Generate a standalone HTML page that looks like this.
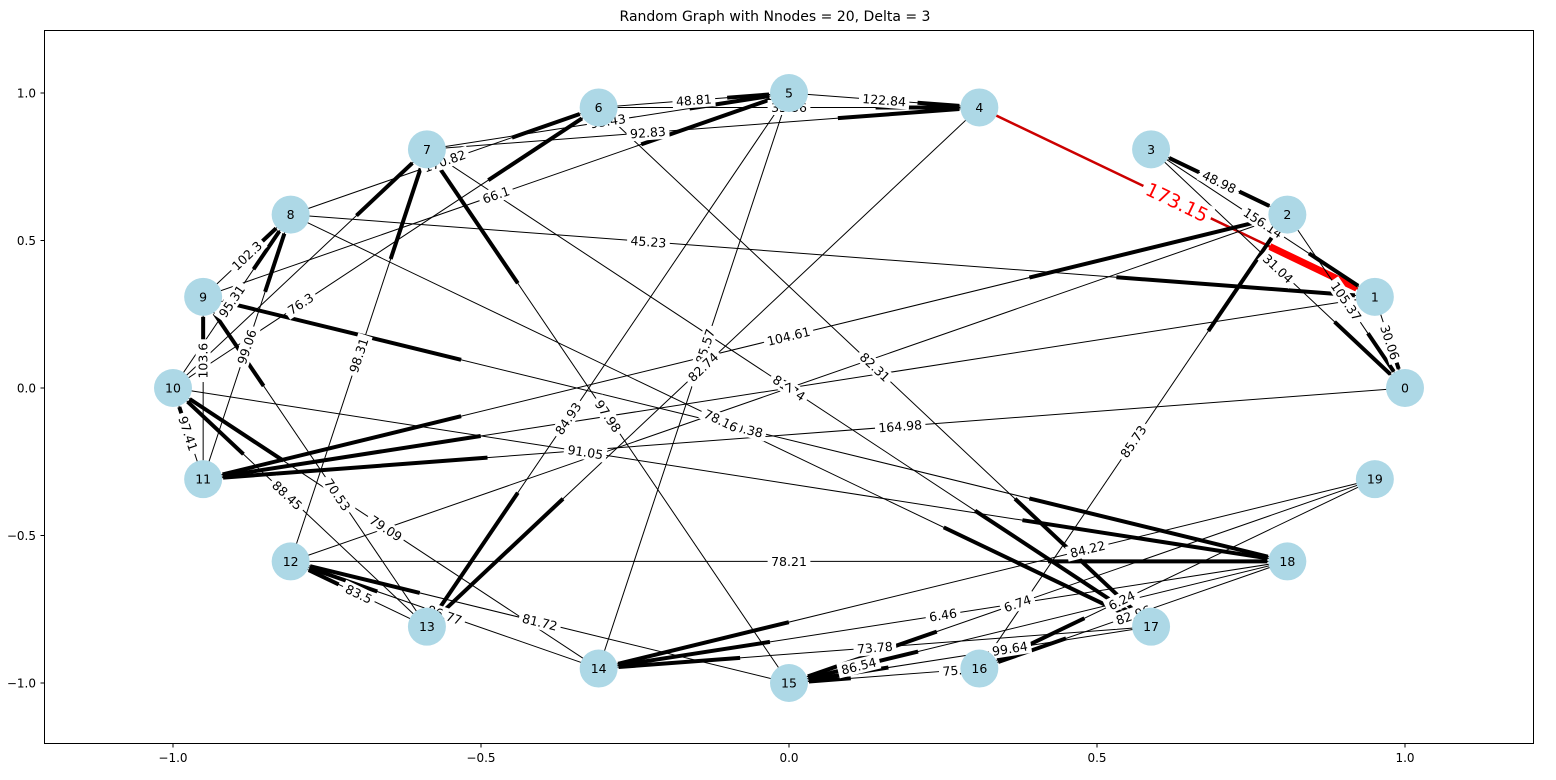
<!DOCTYPE html>
<html><head><meta charset="utf-8">
<style>
body{margin:0;background:#fff;font-family:"Liberation Sans","DejaVu Sans",sans-serif;}
svg text{font-family:"DejaVu Sans","Liberation Sans",sans-serif;}
</style></head>
<body>
<svg id="chart" width="1556" height="775" viewBox="0 0 1556 775">
<rect x="0" y="0" width="1556" height="775" fill="#fff"/>
<text x="775" y="21" text-anchor="middle" font-size="14">Random Graph with Nnodes = 20, Delta = 3</text>
<g id="edges"></g>
<g id="labels"></g>
<g id="nodes"></g>
<rect x="44.5" y="30.5" width="1489" height="713" fill="none" stroke="#000" stroke-width="1"/>
<g id="axes"></g>
</svg>
<script>
const nodeIds = [0,1,2,3,4,5,6,7,8,9,10,11,12,13,14,15,16,17,18,19];
const edgeFrom = [4,3,3,3,2,1,6,7,6,5,7,8,9,10,8,9,10,11,11,11,12,10,13,13,14,13,14,15,12,14,15,4,5,2,6,7,9,8,0,10,16,18,17,19,19,18,18,16,17,19,1,12];
const edgeTo   = [1,2,1,0,0,0,5,5,4,4,4,6,5,6,1,8,8,8,9,10,7,7,9,10,10,12,12,12,18,5,7,13,13,11,17,17,18,17,11,18,2,14,14,15,16,15,16,15,15,14,11,2];
const edgeWeight = ["173.15","48.98","156.14","31.04","105.37","30.06","48.81","93.43","35.36","122.84","92.83","170.82","66.1","76.3","45.23","102.3","95.31","99.06","103.6","97.41","98.31","","70.53","88.45","79.09","83.5","86.77","81.72","78.21","85.57","97.98","82.74","84.93","104.61","82.31","81.74","80.38","78.16","164.98","91.05","85.73","6.46","73.78","6.74","6.24","86.54","82.96","75.21","99.64","84.22","","7"];
const labelT = [0.5,0.5,0.5,0.5,0.5,0.5,0.5,0.5,0.5,0.5,0.4,0.5,0.5,0.3,0.33,0.5,0.5,0.5,0.65,0.5,0.5,0.5,0.4,0.55,0.5,0.5,0.5,0.5,0.5,0.56,0.5,0.5,0.61,0.46,0.5,0.5,0.5,0.5,0.42,0.37,0.5,0.5,0.5,0.61,0.64,0.86,0.5,0.1,0.39,0.37,0.5,0.5];
const thickEnd = [1,3,1,1,1,1,1,1,1,1,1,1,1,1,1,1,1,1,1,1,1,1,1,1,1,1,1,1,1,0,1,1,1,3,1,1,3,1,1,1,1,1,1,1,1,1,1,1,1,1,1,0];
const highlightEdge = 0;
const xTicks = [-1.0,-0.5,0.0,0.5,1.0];
const yTicks = [1.0,0.5,0.0,-0.5,-1.0];

const NS="http://www.w3.org/2000/svg";
function sx(v){return 789+616*v;}
function sy(v){return 388-295*v;}
function mk(t,a,p){const e=document.createElementNS(NS,t);for(const k in a)e.setAttribute(k,a[k]);p.appendChild(e);return e;}
const pos = nodeIds.map(k=>{const a=2*Math.PI*k/nodeIds.length;return [sx(Math.cos(a)),sy(Math.sin(a))];});

const gE=document.getElementById('edges'),gL=document.getElementById('labels'),gN=document.getElementById('nodes'),gA=document.getElementById('axes');
for(let i=0;i<edgeFrom.length;i++){
  const p=pos[edgeFrom[i]],q=pos[edgeTo[i]];
  const red=i===highlightEdge;
  const col=red?'#ff0000':'#000';
  const ln=mk('line',{x1:p[0],y1:p[1],x2:q[0],y2:q[1],stroke:red?'#cc0000':'#000','stroke-width':red?2.5:1},gE);
  
  
  const L=Math.hypot(q[0]-p[0],q[1]-p[1]);
  const segs=[];
  if(thickEnd[i]&1){const te=1-20/L;segs.push([Math.max(0.5,te-0.22),te]);}
  if(thickEnd[i]&2){const ts=20/L;segs.push([ts,Math.min(0.5,ts+0.22)]);}
  segs.forEach(s=>{
    const th=mk('line',{x1:p[0]+(q[0]-p[0])*s[0],y1:p[1]+(q[1]-p[1])*s[0],x2:p[0]+(q[0]-p[0])*s[1],y2:p[1]+(q[1]-p[1])*s[1],stroke:col,'stroke-width':red?7:4},gE);
    
    
  });
  if(edgeWeight[i]!==''){
    const t=labelT[i];
    const lx=p[0]+(q[0]-p[0])*t, ly=p[1]+(q[1]-p[1])*t;
    let ang=Math.atan2(q[1]-p[1],q[0]-p[0])*180/Math.PI;
    if(ang>90)ang-=180; if(ang<-90)ang+=180;
    const g=mk('g',{transform:`translate(${lx},${ly}) rotate(${ang})`},gL);
    
    
    const fs=red?19:12.5;
    const w=edgeWeight[i].length*fs*0.62;
    mk('rect',{x:-w/2-2,y:-fs*0.6,width:w+4,height:fs*1.2,fill:'#fff'},g);
    const tx=mk('text',{x:0,y:fs*0.36,'text-anchor':'middle','font-size':fs,fill:red?'#ff0000':'#000'},g);
    tx.textContent=edgeWeight[i];
  }
}
nodeIds.forEach((k,i)=>{
  const c=mk('circle',{cx:pos[i][0],cy:pos[i][1],r:19,fill:'#add8e6'},gN);
  
  
  const t=mk('text',{x:pos[i][0],y:pos[i][1]+4.5,'text-anchor':'middle','font-size':12.5},gN);
  
  
  t.textContent=k;
});
xTicks.forEach(v=>{
  const x=sx(v);
  const tk=mk('line',{x1:x,y1:743.5,x2:x,y2:747.5,stroke:'#000'},gA);
  
  
  const t=mk('text',{x:x,y:762,'text-anchor':'middle','font-size':12},gA);
  
  
  t.textContent=v.toFixed(1).replace('-','\u2212');
});
yTicks.forEach(v=>{
  const y=sy(v);
  const tk=mk('line',{x1:40.5,y1:y,x2:44.5,y2:y,stroke:'#000'},gA);
  
  
  const t=mk('text',{x:36,y:y+4.5,'text-anchor':'end','font-size':12},gA);
  
  
  t.textContent=v.toFixed(1).replace('-','\u2212');
});
</script>
</body></html>
